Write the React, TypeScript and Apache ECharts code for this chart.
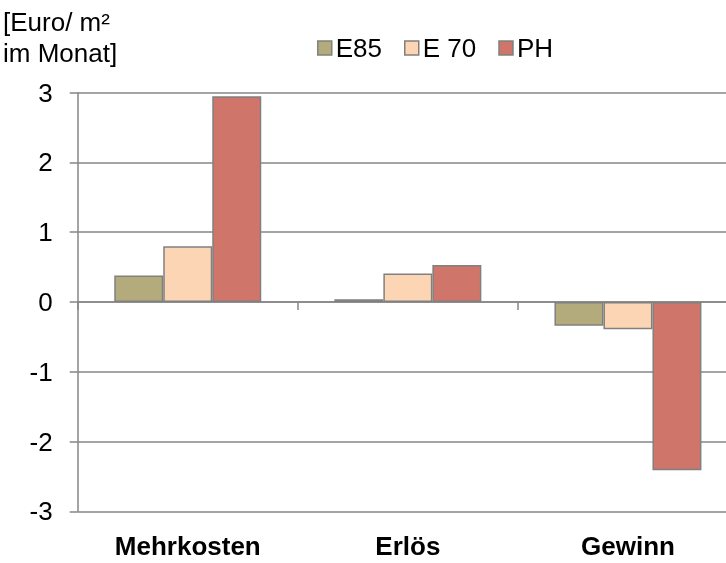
import React, { useEffect, useRef } from "react";
import * as echarts from "echarts";

const categories = ["Mehrkosten", "Erlös", "Gewinn"];
const seriesNames = ["E85", "E 70", "PH"];
const e85Values = [0.38, 0.04, -0.34];
const e70Values = [0.8, 0.41, -0.39];
const phValues = [2.95, 0.53, -2.41];
const colors = ["#B4AB7C", "#FCD5B4", "#CF756A"];
const unitLabel = "[Euro/ m²\nim Monat]";

const FONT = "'Liberation Sans', Arial, sans-serif";
const GRID = "#868686";
const FS = 26;

export default function App() {
  const ref = useRef<HTMLDivElement>(null);
  useEffect(() => {
    if (!ref.current) return;
    const chart = echarts.init(ref.current, undefined, { renderer: "svg" });
    const values = [e85Values, e70Values, phValues];
    chart.setOption({
      animation: false,
      textStyle: { fontFamily: FONT },
      title: {
        text: unitLabel,
        left: 3,
        top: 6,
        padding: 0,
        textStyle: { fontFamily: FONT, fontSize: FS, fontWeight: "normal", color: "#000", lineHeight: 31 },
      },
      legend: {
        left: 317,
        top: 35,
        padding: 0,
        itemWidth: 14,
        itemHeight: 14,
        itemGap: 22,
        icon: "rect",
        itemStyle: { borderColor: "#808080", borderWidth: 1.5 },
        textStyle: { fontFamily: FONT, fontSize: FS, color: "#000", padding: [0, 0, 0, -1] },
        data: seriesNames,
      },
      grid: { left: 77.7, right: 0, top: 92.7, bottom: 51.7, containLabel: false },
      xAxis: [
        {
          type: "category",
          data: categories,
          position: "bottom",
          axisLine: { show: false, onZero: false },
          axisTick: { show: false },
          axisLabel: {
            fontFamily: FONT,
            fontSize: FS,
            fontWeight: "bold",
            color: "#000",
            margin: 25,
            lineHeight: 20,
          },
          splitLine: { show: false },
        },
        {
          type: "category",
          data: categories,
          position: "bottom",
          axisLine: { show: true, onZero: true, lineStyle: { color: GRID, width: 1.5 } },
          axisTick: { show: true, length: 8, interval: 0, lineStyle: { color: GRID, width: 1.5 } },
          axisLabel: { show: false },
          splitLine: { show: false },
        },
      ],
      yAxis: {
        type: "value",
        min: -3,
        max: 3,
        interval: 1,
        axisLine: { show: true, lineStyle: { color: GRID, width: 1.5 } },
        axisTick: { show: true, length: 8, lineStyle: { color: GRID, width: 1.5 } },
        axisLabel: { fontFamily: FONT, fontSize: FS, color: "#000", margin: 25 },
        splitLine: { show: true, lineStyle: { color: GRID, width: 1.5 } },
      },
      series: seriesNames.map((name, i) => ({
        name,
        type: "bar",
        xAxisIndex: 0,
        data: values[i],
        barWidth: 49,
        barGap: "0%",
        itemStyle: { color: colors[i], borderColor: "#808080", borderWidth: 1.5 },
        z: 3,
      })),
    });
    return () => chart.dispose();
  }, []);
  return (
    <div style={{ position: "fixed", left: 0, top: 0, width: 726, height: 563, overflow: "hidden" }}>
      <div ref={ref} style={{ width: 738, height: 563 }} />
    </div>
  );
}
